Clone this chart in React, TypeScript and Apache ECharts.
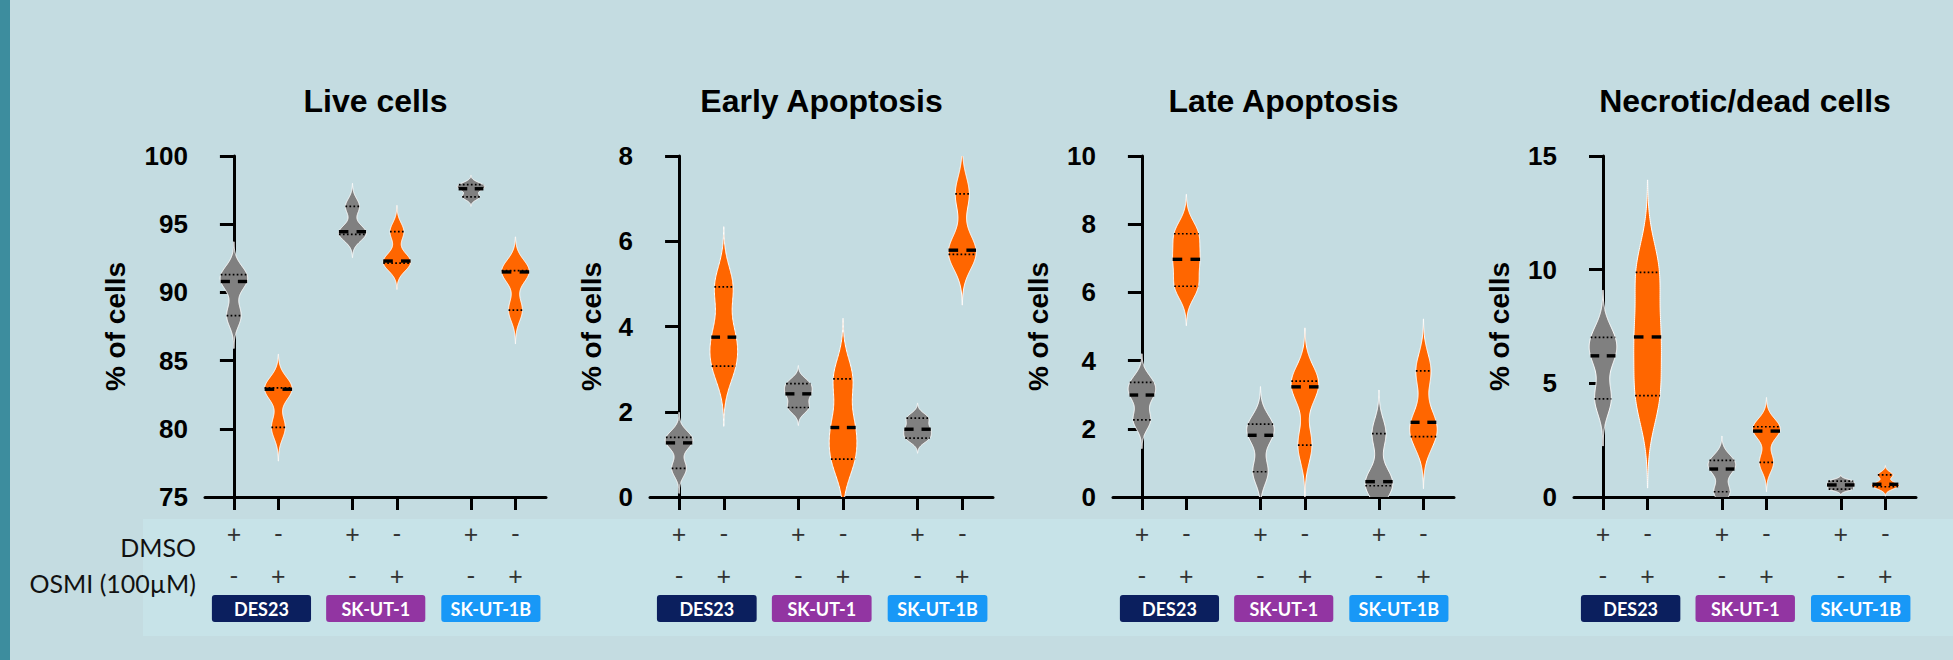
import React, { useEffect, useRef } from 'react';
import * as echarts from 'echarts';

// ---------- data ----------
const panelTitles = ['Live cells', 'Early Apoptosis', 'Late Apoptosis', 'Necrotic/dead cells'];
const yAxisName = '% of cells';
const yMins = [75, 0, 0, 0];
const yMaxs = [100, 8, 10, 15];
const yIntervals = [5, 2, 2, 5];

// x positions of the six conditions (pairs grouped by cell line)
const conditionPositions = [0, 1, 2.667, 3.667, 5.333, 6.333];
const dmsoSigns = ['+', '-', '+', '-', '+', '-'];
const osmiSigns = ['-', '+', '-', '+', '-', '+'];
const conditionColors = ['#808080', '#ff6600', '#808080', '#ff6600', '#808080', '#ff6600'];
const rowLabels = ['DMSO', 'OSMI (100µM)'];

const cellLines = ['DES23', 'SK-UT-1', 'SK-UT-1B'];
const cellLineCenters = [0.62, 3.19, 5.78];
const cellLineColors = ['#0b1f5e', '#9235a2', '#1898f7'];

// replicate values (n = 3) for each condition, in condition order
const liveCells = [
  [88.3, 90.8, 91.3],
  [80.1, 82.9, 83.0],
  [94.25, 94.45, 96.3],
  [92.15, 92.3, 94.45],
  [97.0, 97.6, 97.9],
  [88.7, 91.5, 91.6],
];
const earlyApoptosis = [
  [0.67, 1.27, 1.4],
  [3.07, 3.75, 4.93],
  [2.1, 2.42, 2.66],
  [0.89, 1.63, 2.77],
  [1.38, 1.59, 1.85],
  [5.69, 5.79, 7.11],
];
const lateApoptosis = [
  [2.26, 2.99, 3.36],
  [6.18, 6.97, 7.72],
  [0.74, 1.81, 2.14],
  [1.52, 3.23, 3.4],
  [0.33, 0.45, 1.86],
  [1.77, 2.19, 3.7],
];
const necroticCells = [
  [4.32, 6.21, 7.02],
  [4.46, 7.04, 9.88],
  [0.23, 1.23, 1.61],
  [1.52, 2.9, 3.09],
  [0.35, 0.53, 0.7],
  [0.45, 0.56, 0.97],
];
const panelData = [liveCells, earlyApoptosis, lateApoptosis, necroticCells];

// ---------- layout ----------
const gridLefts = [205, 650, 1113, 1574];
const gridWidths = [341, 343, 341, 342];
const gridTop = 156;
const gridHeight = 341;
const yNameGaps = [76, 45, 61, 61];
const X_MIN = -0.65;
const X_MAX = 7.02;
const HALF_WIDTH = 0.31;

// ---------- violin statistics (Gaussian KDE, Prism-style quartiles) ----------
function percentile(sorted: number[], p: number) {
  const n = sorted.length;
  let pos = p * (n + 1);
  if (pos < 1) pos = 1;
  if (pos > n) pos = n;
  const lo = Math.floor(pos);
  const hi = Math.ceil(pos);
  return sorted[lo - 1] + (sorted[hi - 1] - sorted[lo - 1]) * (pos - lo);
}

function buildViolin(values: number[]) {
  const s = values.slice().sort((a, b) => a - b);
  const n = s.length;
  const mean = s.reduce((a, b) => a + b, 0) / n;
  const sd = Math.sqrt(s.reduce((a, b) => a + (b - mean) * (b - mean), 0) / (n - 1));
  const h = 0.5 * sd;
  const dens = (v: number) => s.reduce((a, x) => a + Math.exp(-0.5 * ((v - x) / h) ** 2), 0);
  const lo = s[0] - 3 * h;
  const hi = s[n - 1] + 3 * h;
  const steps = 160;
  const raw: number[][] = [];
  let maxD = 0;
  for (let i = 0; i <= steps; i++) {
    const v = lo + ((hi - lo) * i) / steps;
    const d = dens(v);
    if (d > maxD) maxD = d;
    raw.push([v, d]);
  }
  const pts = raw.map(([v, d]) => [v, d / maxD]);
  const widthAt = (v: number) => dens(v) / maxD;
  return {
    pts,
    widthAt,
    median: percentile(s, 0.5),
    q1: percentile(s, 0.25),
    q3: percentile(s, 0.75),
  };
}

function violinRenderer(panel: number) {
  const shapes = panelData[panel].map(buildViolin);
  return (params: any, api: any) => {
    const x = api.value(0);
    const idx = api.value(1);
    const s = shapes[idx];
    const right = s.pts.map(([v, r]: number[]) => api.coord([x + r * HALF_WIDTH, v]));
    const left = s.pts
      .slice()
      .reverse()
      .map(([v, r]: number[]) => api.coord([x - r * HALF_WIDTH, v]));
    const children: any[] = [
      {
        type: 'polygon',
        shape: { points: right.concat(left) },
        style: { fill: conditionColors[idx], stroke: '#ffffff', lineWidth: 1 },
      },
    ];
    [s.q1, s.q3].forEach((q) => {
      const w = s.widthAt(q) * HALF_WIDTH;
      const a = api.coord([x - w, q]);
      const b = api.coord([x + w, q]);
      children.push({
        type: 'line',
        shape: { x1: a[0], y1: a[1], x2: b[0], y2: b[1] },
        style: { stroke: '#000', lineWidth: 1.7, lineDash: [1.7, 2.3] },
      });
    });
    const wm = s.widthAt(s.median) * HALF_WIDTH;
    const segs = [
      [x - wm, x - wm * 0.3],
      [x + wm * 0.3, x + wm],
    ];
    segs.forEach(([x1, x2]) => {
      const a = api.coord([x1, s.median]);
      const b = api.coord([x2, s.median]);
      children.push({
        type: 'line',
        shape: { x1: a[0], y1: a[1], x2: b[0], y2: b[1] },
        style: { stroke: '#000', lineWidth: 3.4 },
      });
    });
    return { type: 'group', children };
  };
}

function cellLineRenderer(panel: number) {
  return (params: any, api: any) => {
    const c = api.value(0);
    const i = api.value(1);
    const p = api.coord([c, yMins[panel]]);
    const w = api.size([2.23, 0])[0];
    return {
      type: 'group',
      children: [
        {
          type: 'rect',
          shape: { x: p[0] - w / 2, y: p[1] + 98, width: w, height: 27, r: 3 },
          style: { fill: cellLineColors[i] },
        },
        {
          type: 'text',
          x: p[0],
          y: p[1] + 98 + 14,
          style: {
            text: cellLines[i],
            fill: '#ffffff',
            font: 'bold 18px Lato',
            align: 'center',
            verticalAlign: 'middle',
          },
        },
      ],
    };
  };
}

const nearestIndex = (v: number) => {
  let best = 0;
  conditionPositions.forEach((p, i) => {
    if (Math.abs(p - v) < Math.abs(conditionPositions[best] - v)) best = i;
  });
  return best;
};

export default function App() {
  const ref = useRef<HTMLDivElement>(null);
  useEffect(() => {
    if (!ref.current) return;
    const chart = echarts.init(ref.current, null, { renderer: 'svg' });
    const grids = panelTitles.map((_, k) => ({
      left: gridLefts[k],
      top: gridTop,
      width: gridWidths[k],
      height: gridHeight,
    }));
    const xAxes = panelTitles.map((_, k) => ({
      type: 'value',
      gridIndex: k,
      min: X_MIN,
      max: X_MAX,
      splitLine: { show: false },
      axisLine: { onZero: false, lineStyle: { color: '#000', width: 3 } },
      axisTick: {
        customValues: conditionPositions,
        length: 13,
        lineStyle: { color: '#000', width: 3 },
      },
      axisLabel: {
        customValues: conditionPositions,
        formatter: (v: number) => {
          const i = nearestIndex(v);
          return dmsoSigns[i] + '\n' + osmiSigns[i];
        },
        margin: 15,
        lineHeight: 42,
        fontSize: 25,
        fontFamily: 'Lato',
        color: '#333',
      },
    }));
    const yAxes = panelTitles.map((_, k) => ({
      type: 'value',
      gridIndex: k,
      min: yMins[k],
      max: yMaxs[k],
      interval: yIntervals[k],
      name: yAxisName,
      nameLocation: 'middle',
      nameGap: yNameGaps[k],
      nameTextStyle: { fontSize: 28, fontWeight: 'bold', fontFamily: 'Liberation Sans', color: '#000' },
      splitLine: { show: false },
      axisLine: { show: true, lineStyle: { color: '#000', width: 3 } },
      axisTick: { show: true, length: 14, lineStyle: { color: '#000', width: 3 } },
      axisLabel: {
        margin: 17,
        fontSize: 26,
        fontWeight: 'bold',
        fontFamily: 'Liberation Sans',
        color: '#000',
      },
    }));
    const series: any[] = [];
    panelTitles.forEach((_, k) => {
      series.push({
        type: 'custom',
        xAxisIndex: k,
        yAxisIndex: k,
        clip: true,
        renderItem: violinRenderer(k),
        data: conditionPositions.map((p, i) => [p, i]),
        encode: { x: 0, y: -1 },
        silent: true,
      });
      series.push({
        type: 'custom',
        xAxisIndex: k,
        yAxisIndex: k,
        clip: false,
        renderItem: cellLineRenderer(k),
        data: cellLineCenters.map((c, i) => [c, i]),
        encode: { x: 0, y: -1 },
        silent: true,
      });
    });
    const graphic: any[] = panelTitles.map((t, k) => ({
      type: 'text',
      x: gridLefts[k] + gridWidths[k] / 2,
      y: 101,
      style: {
        text: t,
        font: 'bold 32px "Liberation Sans"',
        fill: '#000',
        align: 'center',
        verticalAlign: 'middle',
      },
    }));
    const rowY = [547, 583];
    rowLabels.forEach((t, i) => {
      graphic.push({
        type: 'text',
        x: 196,
        y: rowY[i],
        style: { text: t, font: '25px Lato', fill: '#111', align: 'right', verticalAlign: 'middle' },
      });
    });
    chart.setOption({
      animation: false,
      backgroundColor: 'transparent',
      grid: grids,
      xAxis: xAxes,
      yAxis: yAxes,
      series,
      graphic,
    });
    return () => chart.dispose();
  }, []);

  return (
    <div style={{ position: 'absolute', left: 0, top: 0, width: 1953, height: 660, background: '#c4dce1', overflow: 'hidden' }}>
      <div style={{ position: 'absolute', left: 0, top: 0, width: 10, height: 660, background: '#3d8d9e' }} />
      <div style={{ position: 'absolute', left: 143, top: 519, width: 1810, height: 117, background: '#c7e3e8' }} />
      <div ref={ref} style={{ position: 'absolute', left: 0, top: 0, width: 1953, height: 660 }} />
    </div>
  );
}
